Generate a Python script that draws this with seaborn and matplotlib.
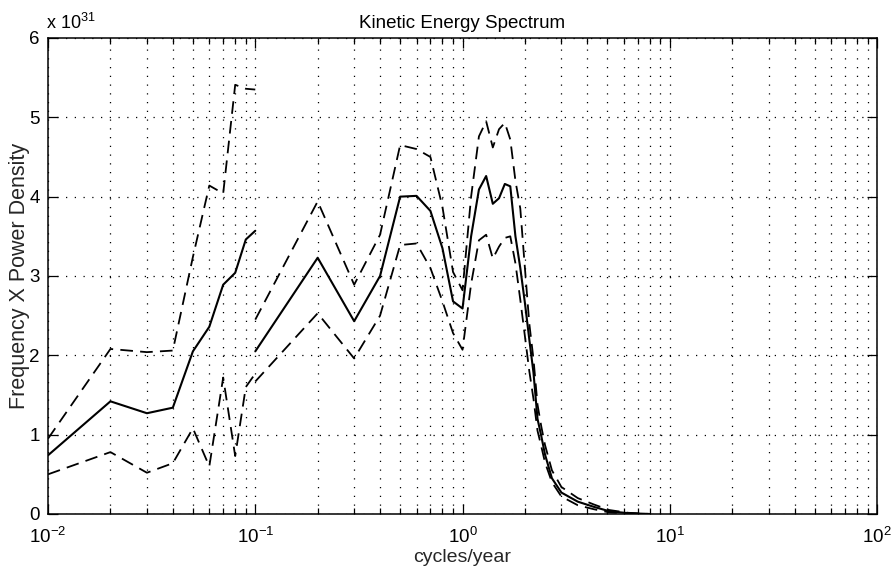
import numpy as np
import pandas as pd
import matplotlib
matplotlib.use("Agg")
import matplotlib.pyplot as plt
import matplotlib.ticker as mticker
import seaborn as sns

# ---- data (units of 1e31) ----
# low-frequency segment
freq_low = [0.01, 0.02, 0.03, 0.04, 0.05, 0.06, 0.07, 0.08, 0.09, 0.10]
mean_low = [0.74, 1.42, 1.27, 1.34, 2.05, 2.36, 2.89, 3.04, 3.46, 3.57]
upper_low = [0.95, 2.08, 2.04, 2.06, 3.24, 4.14, 4.04, 5.41, 5.36, 5.35]
lower_low = [0.50, 0.78, 0.52, 0.64, 1.08, 0.60, 1.72, 0.73, 1.60, 1.77]

# high-frequency segment
freq_high = [0.1, 0.2, 0.3, 0.4, 0.5, 0.6, 0.7, 0.8, 0.9, 1.0,
             1.1, 1.2, 1.3, 1.4, 1.5, 1.6, 1.7, 1.8, 1.9, 2.0,
             2.1, 2.2, 2.3, 2.4, 2.5, 2.7, 3.0, 3.6, 4.3, 5.1, 6.3, 8.0]
mean_high = [2.05, 3.23, 2.43, 3.00, 4.00, 4.01, 3.82, 3.35, 2.68, 2.59,
             3.50, 4.09, 4.26, 3.91, 3.98, 4.16, 4.13, 3.50, 3.10, 2.66,
             2.20, 1.78, 1.20, 0.98, 0.75, 0.45, 0.27, 0.155, 0.09, 0.035, 0.01, 0.0]
upper_high = [2.45, 3.94, 2.89, 3.52, 4.65, 4.60, 4.50, 3.87, 3.05, 2.82,
              4.00, 4.76, 4.95, 4.62, 4.85, 4.93, 4.72, 4.20, 3.85, 3.10,
              2.40, 1.95, 1.38, 1.10, 0.87, 0.55, 0.34, 0.20, 0.12, 0.05, 0.015, 0.0]
lower_high = [1.67, 2.53, 1.96, 2.50, 3.39, 3.41, 3.10, 2.68, 2.28, 2.07,
              2.90, 3.45, 3.52, 3.22, 3.37, 3.48, 3.50, 3.16, 2.70, 2.24,
              1.80, 1.45, 1.05, 0.85, 0.65, 0.40, 0.22, 0.11, 0.06, 0.02, 0.005, 0.0]

x_ticks = [0.01, 0.1, 1, 10, 100]
x_tick_labels = [r"$\mathregular{10^{-2}}$", r"$\mathregular{10^{-1}}$", r"$\mathregular{10^{0}}$",
                 r"$\mathregular{10^{1}}$", r"$\mathregular{10^{2}}$"]
y_ticks = [0, 1, 2, 3, 4, 5, 6]

# ---- style ----
sns.set_style("ticks")
plt.rcParams["font.family"] = ["Liberation Sans", "DejaVu Sans"]
plt.rcParams["mathtext.fontset"] = "custom"
plt.rcParams["mathtext.rm"] = "Liberation Sans"
plt.rcParams["mathtext.it"] = "Liberation Sans:italic"
plt.rcParams["text.color"] = "black"

fig = plt.figure(figsize=(8.93, 5.73), dpi=100)
ax = fig.add_axes([0.0538, 0.103, 0.9283, 0.8307])

dash = (0, (7, 4))
for fr, m, u, l in [(freq_low, mean_low, upper_low, lower_low),
                    (freq_high, mean_high, upper_high, lower_high)]:
    df = pd.DataFrame({"f": fr, "mean": m, "upper": u, "lower": l})
    sns.lineplot(data=df, x="f", y="mean", ax=ax, color="black", lw=1.5,
                 estimator=None, sort=False)
    sns.lineplot(data=df, x="f", y="upper", ax=ax, color="black", lw=1.3,
                 linestyle=dash, estimator=None, sort=False)
    sns.lineplot(data=df, x="f", y="lower", ax=ax, color="black", lw=1.3,
                 linestyle=dash, estimator=None, sort=False)

ax.set_xscale("log")
ax.set_xlim(0.01, 100)
ax.set_ylim(0, 6)
ax.set_xticks(x_ticks)
ax.set_xticklabels(x_tick_labels)
ax.xaxis.set_minor_locator(mticker.LogLocator(base=10, subs=np.arange(2, 10), numticks=20))
ax.xaxis.set_minor_formatter(mticker.NullFormatter())
ax.set_yticks(y_ticks)
ax.set_yticklabels([str(v) for v in y_ticks])

grid_ls = (0, (1, 6))
ax.grid(which="major", axis="both", color="black", lw=0.9, linestyle=grid_ls)
ax.grid(which="minor", axis="x", color="black", lw=0.9, linestyle=grid_ls)

ax.tick_params(which="both", direction="in", top=True, right=True, colors="black",
               labelsize=13.5, width=0.9)
ax.tick_params(which="major", length=7)
ax.tick_params(axis="x", which="major", pad=9)
ax.tick_params(axis="y", which="major", pad=6)
ax.tick_params(which="minor", length=4)
for s in ax.spines.values():
    s.set_color("black")
    s.set_linewidth(1.1)
    s.set_visible(True)

ax.set_title("Kinetic Energy Spectrum", fontsize=13.5, pad=7)
ax.set_xlabel("cycles/year", fontsize=14, labelpad=2)
ax.set_ylabel("Frequency X Power Density", fontsize=15.5, labelpad=-0.5)
ax.text(-0.003, 1.01, r"x 10$^{31}$", transform=ax.transAxes, ha="left", va="bottom",
        fontsize=13)

fig.savefig("out.png", dpi=100)
